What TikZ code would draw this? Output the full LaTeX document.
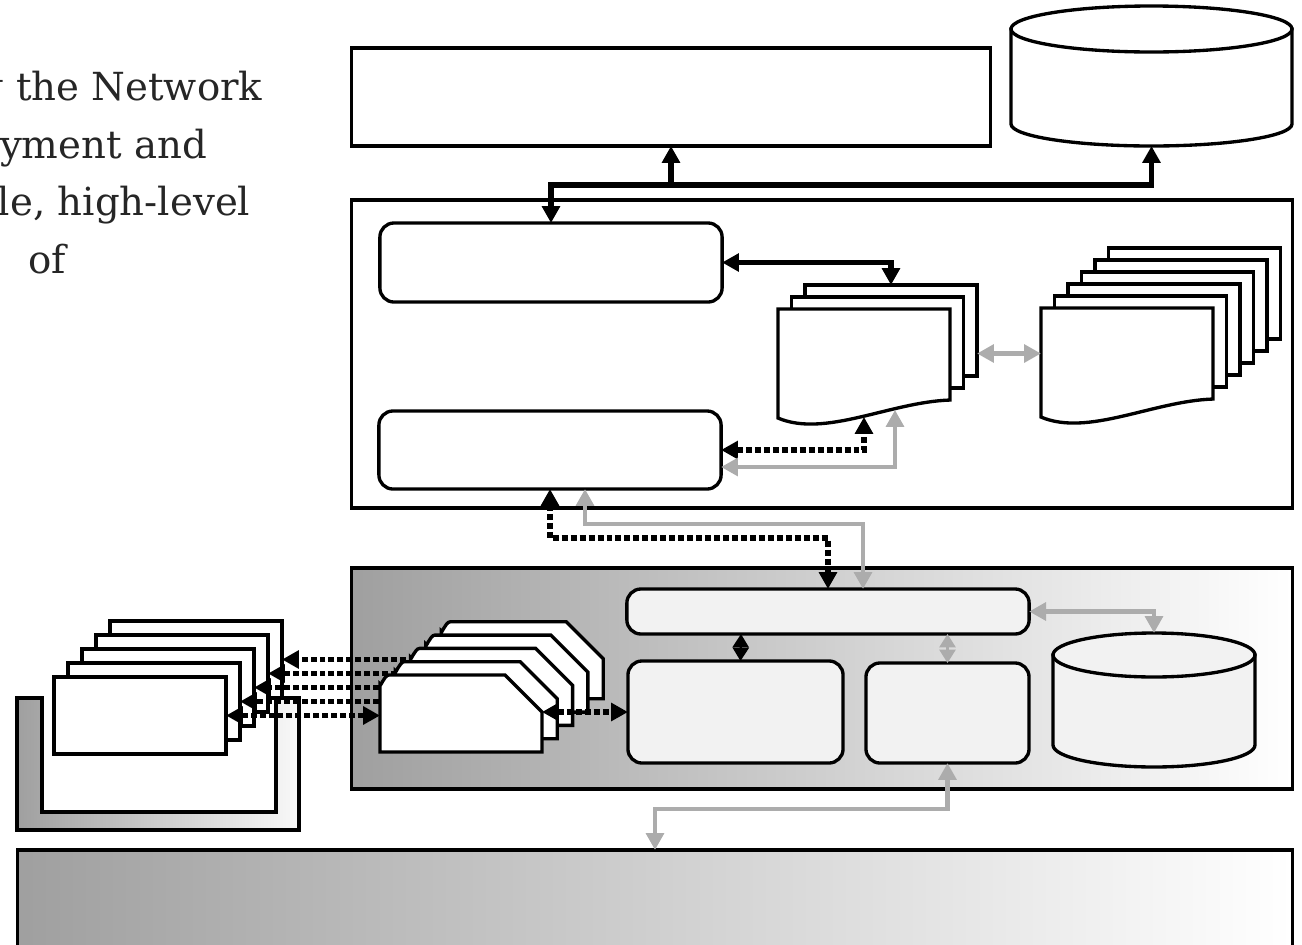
\documentclass[tikz,border=0pt]{standalone}
\usepackage{xcolor}
\usepackage{fontspec}
\setmainfont{DejaVu Serif}
\usepackage{tikz}
\usetikzlibrary{arrows.meta,calc}

\begin{document}
\begin{tikzpicture}[
    x=0.01cm, y=-0.01cm,
    every node/.style={inner sep=0pt, outer sep=0pt},
    >={Triangle[length=4.8pt,width=5pt]},
    txt/.style    ={anchor=base west, font=\fontsize{11pt}{16pt}\selectfont,
                    text=black!85},
    box/.style    ={rectangle, draw, line width=0.95pt, fill=white},
    rbox/.style   ={box, rounded corners=4pt},
    abox/.style   ={box, rounded corners=4pt, fill=gray!10},
    doc/.style    ={box, minimum width=1.72cm, minimum height=0.91cm},
    ws/.style     ={box, minimum width=1.72cm, minimum height=0.77cm},
    shp/.style    ={draw, line width=0.95pt, fill=white},
    blkarr/.style ={line width=1.5pt},
    grayarr/.style={line width=1.3pt, draw=gray!65},
    dotarr/.style ={line width=1.6pt, dash pattern=on 1.7pt off 0.85pt},
    diam/.style   ={line width=0.6pt, <->, >={Triangle[length=3.8pt,width=4.6pt]}},
  ]
  \useasboundingbox (0,0) rectangle (1302,945);

  % cut-off text on the left
  \node[txt] (t1) at (-21,100) {g the Network};
  \node[txt] (t2) at (0,158) {yment and};
  \node[txt] (t3) at (-2,215) {le, high-level};
  \node[txt] (t4) at (28,273) {of};

  % Top: application + store
  \node[box, minimum width=6.38cm, minimum height=0.98cm] (app) at (671,97) {};
  \filldraw[shp] (1011,29) -- (1011,124)
    arc[start angle=180, end angle=0, x radius=140.5, y radius=22] -- (1292,29) -- cycle;
  \filldraw[shp] (1151.5,29) ellipse[x radius=140.5, y radius=23];
  \coordinate (appdb) at (1151.5,146);

  % Manager
  \node[box, minimum width=9.40cm, minimum height=3.08cm] (mgr) at (822,354) {};
  \node[rbox, minimum width=3.42cm, minimum height=0.79cm] (ctrl) at (551,262.5) {};
  \node[rbox, minimum width=3.42cm, minimum height=0.78cm] (proto) at (550,450) {};

  % documents, left stack
  \foreach \i in {2,1}
    \node[doc] (mib\i) at (864+13.5*\i, 354.5-12*\i) {};
  \node[doc, draw=none, fill=none] (mib0) at (864,354.5) {};
  \filldraw[shp] ($(mib0.south west)+(0,18)$) -- (mib0.north west) -- (mib0.north east)
    -- (mib0.south east) .. controls +(-60,2) and +(47,20) .. ($(mib0.south west)+(0,18)$) -- cycle;
  \coordinate (mibdot) at (864,417);
  \coordinate (mibgray) at (895,410);

  % documents, right stack
  \foreach \i in {5,4,3,2,1}
    \node[doc] (mibset\i) at (1127+13.5*\i, 353.5-12*\i) {};
  \node[doc, draw=none, fill=none] (mibset0) at (1127,353.5) {};
  \filldraw[shp] ($(mibset0.south west)+(0,18)$) -- (mibset0.north west) -- (mibset0.north east)
    -- (mibset0.south east) .. controls +(-60,2) and +(47,20) .. ($(mibset0.south west)+(0,18)$) -- cycle;

  % manager arrows
  \draw[blkarr,<->] (ctrl.north) |- ($(appdb)+(0,39)$) -- (appdb);
  \draw[blkarr,->] ($(app.south)+(0,39)$) -- (app.south);
  \draw[blkarr,<->] (ctrl.east) -| (mib2.north);
  \draw[grayarr,<->] (mib2.east |- mibset0.west) -- (mibset0.west);
  \draw[dotarr,<->] (proto.east) -| (mibdot);
  \draw[grayarr,<->] ($(proto.east)+(0,17)$) -| (mibgray);

  % Agent
  \node[box, left color=gray!75, right color=white,
        minimum width=9.40cm, minimum height=2.21cm] (agent) at (822,678.5) {};
  \node[abox, minimum width=4.02cm, minimum height=0.45cm] (agbus) at (828,611.5) {};
  \node[abox, minimum width=2.15cm, minimum height=1.02cm] (agcore) at (735.5,712) {};
  \node[abox, minimum width=1.63cm, minimum height=1.00cm] (agside) at (947.5,713) {};
  \filldraw[shp, fill=gray!10] (1053,655) -- (1053,745)
    arc[start angle=180, end angle=0, x radius=101, y radius=22] -- (1255,655) -- cycle;
  \filldraw[shp, fill=gray!10] (1154,655) ellipse[x radius=101, y radius=22];
  \coordinate (agdb) at (1154,633);

  % devices in the tray
  \draw[line width=0.95pt, left color=gray!75, right color=gray!5]
    (17,698) -- (17,830) -- (299,830) -- (299,698) -- (276,698) -- (276,812)
    -- (42,812) -- (42,698) -- cycle;
  \foreach \i in {4,3,2,1,0}
    \node[ws] (ws\i) at (140+14*\i, 715.5-14*\i) {};

  \coordinate (aghub) at (460,700);
  \foreach \i in {4,3,2,1}
    \draw[dotarr,->] (aghub |- ws\i.east) -- (ws\i.east);

  % agent stack
  \foreach \i in {4,3,2,1,0} {
    \coordinate (ag\i) at (380+15.3*\i, 675-13.3*\i);
    \filldraw[shp] ($(ag\i)+(0,77)$) -- ($(ag\i)+(0,9)$) to[out=-90,in=180] ($(ag\i)+(9,0)$)
      -- ($(ag\i)+(125,0)$) -- ($(ag\i)+(162,37)$) -- ($(ag\i)+(162,77)$) -- cycle;
  }
  \coordinate (ag0r) at ($(ag0)+(162,37)$);

  \draw[dotarr,<->] (ws0.east -| ag0) -- (ws0.east);
  \draw[dotarr,<->] (agcore.west -| ag0r) -- (agcore.west);

  % agent arrows
  \draw[dotarr,<->] (proto.south) -- ++(0,49) -| (agbus.north);
  \draw[grayarr,<->] ($(proto.south)+(35,0)$) -- ++(0,35) -| ($(agbus.north)+(35,0)$);
  \draw[grayarr,<->] (agbus.east) -| (agdb);
  \draw[diam] ($(agbus.south)+(-87,0)$) -- ($(agcore.north)+(5,0)$);
  \draw[diam, gray!65] (agbus.south -| agside.north) -- (agside.north);

  % network
  \node[box, left color=gray!75, right color=white,
        minimum width=12.74cm, minimum height=1.10cm] (net) at (655,905) {};
  \draw[grayarr,<->] (agside.south) -- ++(0,46) -| (net.north);
\end{tikzpicture}
\end{document}
